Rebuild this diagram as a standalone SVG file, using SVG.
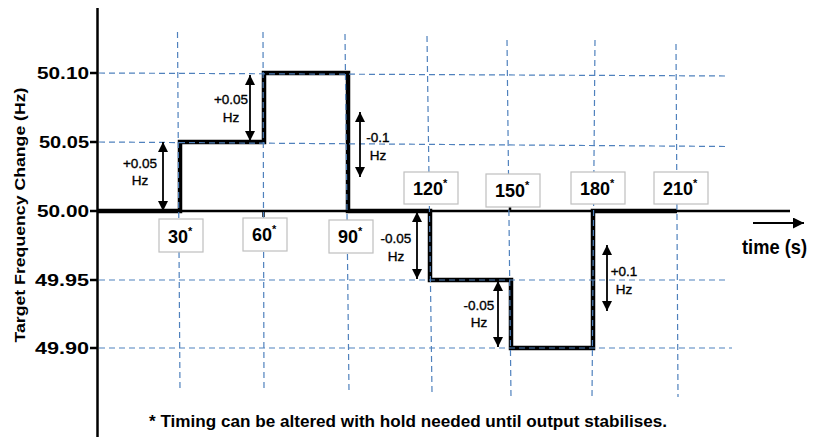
<svg xmlns="http://www.w3.org/2000/svg" width="816" height="437" viewBox="0 0 816 437">
<style>
.grid{stroke:#4f81bd;stroke-width:1.2;stroke-dasharray:6 4;fill:none}
.axis{stroke:#000;stroke-width:2.5;fill:none}
.step{stroke:#000;stroke-width:4.5;fill:none;stroke-linejoin:miter}
.tick{stroke:#000;stroke-width:2.5}
.ylab{font-family:"Liberation Sans",Arial,sans-serif;font-weight:bold;font-size:17px;fill:#000;text-anchor:end}
.box{fill:#fff;stroke:#bfbfbf;stroke-width:1.2}
.tlab{font-family:"Liberation Sans",Arial,sans-serif;font-weight:bold;font-size:18px;fill:#000}
.ast{font-size:11px}
.ann{font-family:"Liberation Sans",Arial,sans-serif;font-size:13.5px;fill:#000;stroke:#000;stroke-width:0.35;text-anchor:middle}
.dbl{stroke:#000;stroke-width:1.8;fill:none;marker-start:url(#ah);marker-end:url(#ah)}
.big{font-family:"Liberation Sans",Arial,sans-serif;font-weight:bold;fill:#000}
</style>
<defs>
<marker id="ah" viewBox="0 0 10 10" refX="10" refY="5" markerWidth="10" markerHeight="10" markerUnits="userSpaceOnUse" orient="auto-start-reverse">
<path d="M0,0 L10,5 L0,10 Z" fill="#000"/>
</marker>
<marker id="ah2" viewBox="0 0 10 10" refX="10" refY="5" markerWidth="11" markerHeight="11" markerUnits="userSpaceOnUse" orient="auto">
<path d="M0,0 L10,5 L0,10 Z" fill="#000"/>
</marker>
</defs>
<rect width="816" height="437" fill="#fff"/>

<!-- axes -->
<g id="axes">
<line class="axis" x1="97.5" y1="8" x2="97.5" y2="437"/>
<line class="axis" x1="97" y1="211" x2="790" y2="211"/>
<line class="tick" x1="90" y1="73" x2="97" y2="73"/>
<line class="tick" x1="90" y1="142" x2="97" y2="142"/>
<line class="tick" x1="90" y1="211" x2="97" y2="211"/>
<line class="tick" x1="90" y1="280" x2="97" y2="280"/>
<line class="tick" x1="90" y1="348" x2="97" y2="348"/>
<line class="tick" x1="263.5" y1="211" x2="263.5" y2="217"/>
<line class="tick" x1="510" y1="206" x2="510" y2="211"/>
</g>

<!-- step profile -->
<g id="profile">
<path class="step" d="M97,211 H180 V142 H264 V73 H348 V211 H430 V280 H511 V348 H593 V211 H677"/>
</g>

<!-- gridlines -->
<g id="grid">
<line class="grid" x1="99" y1="73" x2="728" y2="76"/>
<line class="grid" x1="99" y1="142" x2="728" y2="146.5"/>
<line class="grid" x1="99" y1="280" x2="728" y2="280"/>
<line class="grid" x1="99" y1="348" x2="732" y2="348"/>
<line class="grid" x1="177.5" y1="32" x2="180" y2="391"/>
<line class="grid" x1="263" y1="32" x2="264" y2="391"/>
<line class="grid" x1="345" y1="34" x2="349" y2="392"/>
<line class="grid" x1="427" y1="36" x2="432" y2="392"/>
<line class="grid" x1="507" y1="40" x2="511" y2="398"/>
<line class="grid" x1="595" y1="40" x2="592" y2="398"/>
<line class="grid" x1="676" y1="44" x2="678" y2="397"/>
</g>

<!-- y-axis labels -->
<g id="y-labels">
<text class="ylab" x="89" y="79" textLength="52" lengthAdjust="spacingAndGlyphs">50.10</text>
<text class="ylab" x="89" y="148" textLength="50" lengthAdjust="spacingAndGlyphs">50.05</text>
<text class="ylab" x="89" y="217" textLength="52" lengthAdjust="spacingAndGlyphs">50.00</text>
<text class="ylab" x="89" y="286" textLength="54" lengthAdjust="spacingAndGlyphs">49.95</text>
<text class="ylab" x="89" y="354" textLength="54" lengthAdjust="spacingAndGlyphs">49.90</text>
</g>
<text id="y-title" class="big" font-size="15.5" text-anchor="middle" transform="translate(25,215) rotate(-90)" textLength="255" lengthAdjust="spacingAndGlyphs">Target Frequency Change (Hz)</text>

<!-- time labels -->
<g id="t30"><rect class="box" x="159" y="219" width="44" height="33"/><text class="tlab" x="168" y="243">30<tspan class="ast" dy="-8">*</tspan></text></g>
<g id="t60"><rect class="box" x="243" y="218" width="44" height="33"/><text class="tlab" x="252" y="241">60<tspan class="ast" dy="-8">*</tspan></text></g>
<g id="t90"><rect class="box" x="329" y="220" width="44" height="33"/><text class="tlab" x="338" y="243">90<tspan class="ast" dy="-8">*</tspan></text></g>
<g id="t120"><rect class="box" x="404" y="172" width="54" height="32"/><text class="tlab" x="413" y="195">120<tspan class="ast" dy="-8">*</tspan></text></g>
<g id="t150"><rect class="box" x="486" y="174" width="54" height="33"/><text class="tlab" x="495" y="197">150<tspan class="ast" dy="-8">*</tspan></text></g>
<g id="t180"><rect class="box" x="571" y="172" width="54" height="32"/><text class="tlab" x="580" y="195">180<tspan class="ast" dy="-8">*</tspan></text></g>
<g id="t210"><rect class="box" x="654" y="172" width="54" height="32"/><text class="tlab" x="663" y="195">210<tspan class="ast" dy="-8">*</tspan></text></g>

<!-- change arrows -->
<g id="connectors">
<line class="dbl" x1="163" y1="142" x2="163" y2="211"/>
<line class="dbl" x1="250" y1="75" x2="250" y2="141"/>
<line class="dbl" x1="360" y1="112" x2="360" y2="177"/>
<line class="dbl" x1="417" y1="212" x2="417" y2="279"/>
<line class="dbl" x1="498" y1="281" x2="498" y2="347"/>
<line class="dbl" x1="607" y1="245" x2="607" y2="311"/>
<line stroke="#000" stroke-width="2" x1="753" y1="223" x2="804" y2="223" marker-end="url(#ah2)"/>
</g>

<g id="ann1"><text class="ann" x="140" y="168">+0.05</text><text class="ann" x="140" y="185">Hz</text></g>
<g id="ann2"><text class="ann" x="231" y="104">+0.05</text><text class="ann" x="231" y="122">Hz</text></g>
<g id="ann3"><text class="ann" x="378" y="142">-0.1</text><text class="ann" x="378" y="160">Hz</text></g>
<g id="ann4"><text class="ann" x="396" y="243">-0.05</text><text class="ann" x="396" y="261">Hz</text></g>
<g id="ann5"><text class="ann" x="479" y="310">-0.05</text><text class="ann" x="479" y="327">Hz</text></g>
<g id="ann6"><text class="ann" x="624" y="276">+0.1</text><text class="ann" x="624" y="294">Hz</text></g>

<text id="x-title" class="big" font-size="20.5" x="742" y="254" textLength="65" lengthAdjust="spacingAndGlyphs">time (s)</text>
<text id="note" class="big" font-size="16.5" x="149" y="427" textLength="518" lengthAdjust="spacingAndGlyphs">* Timing can be altered with hold needed until output stabilises.</text>
</svg>
